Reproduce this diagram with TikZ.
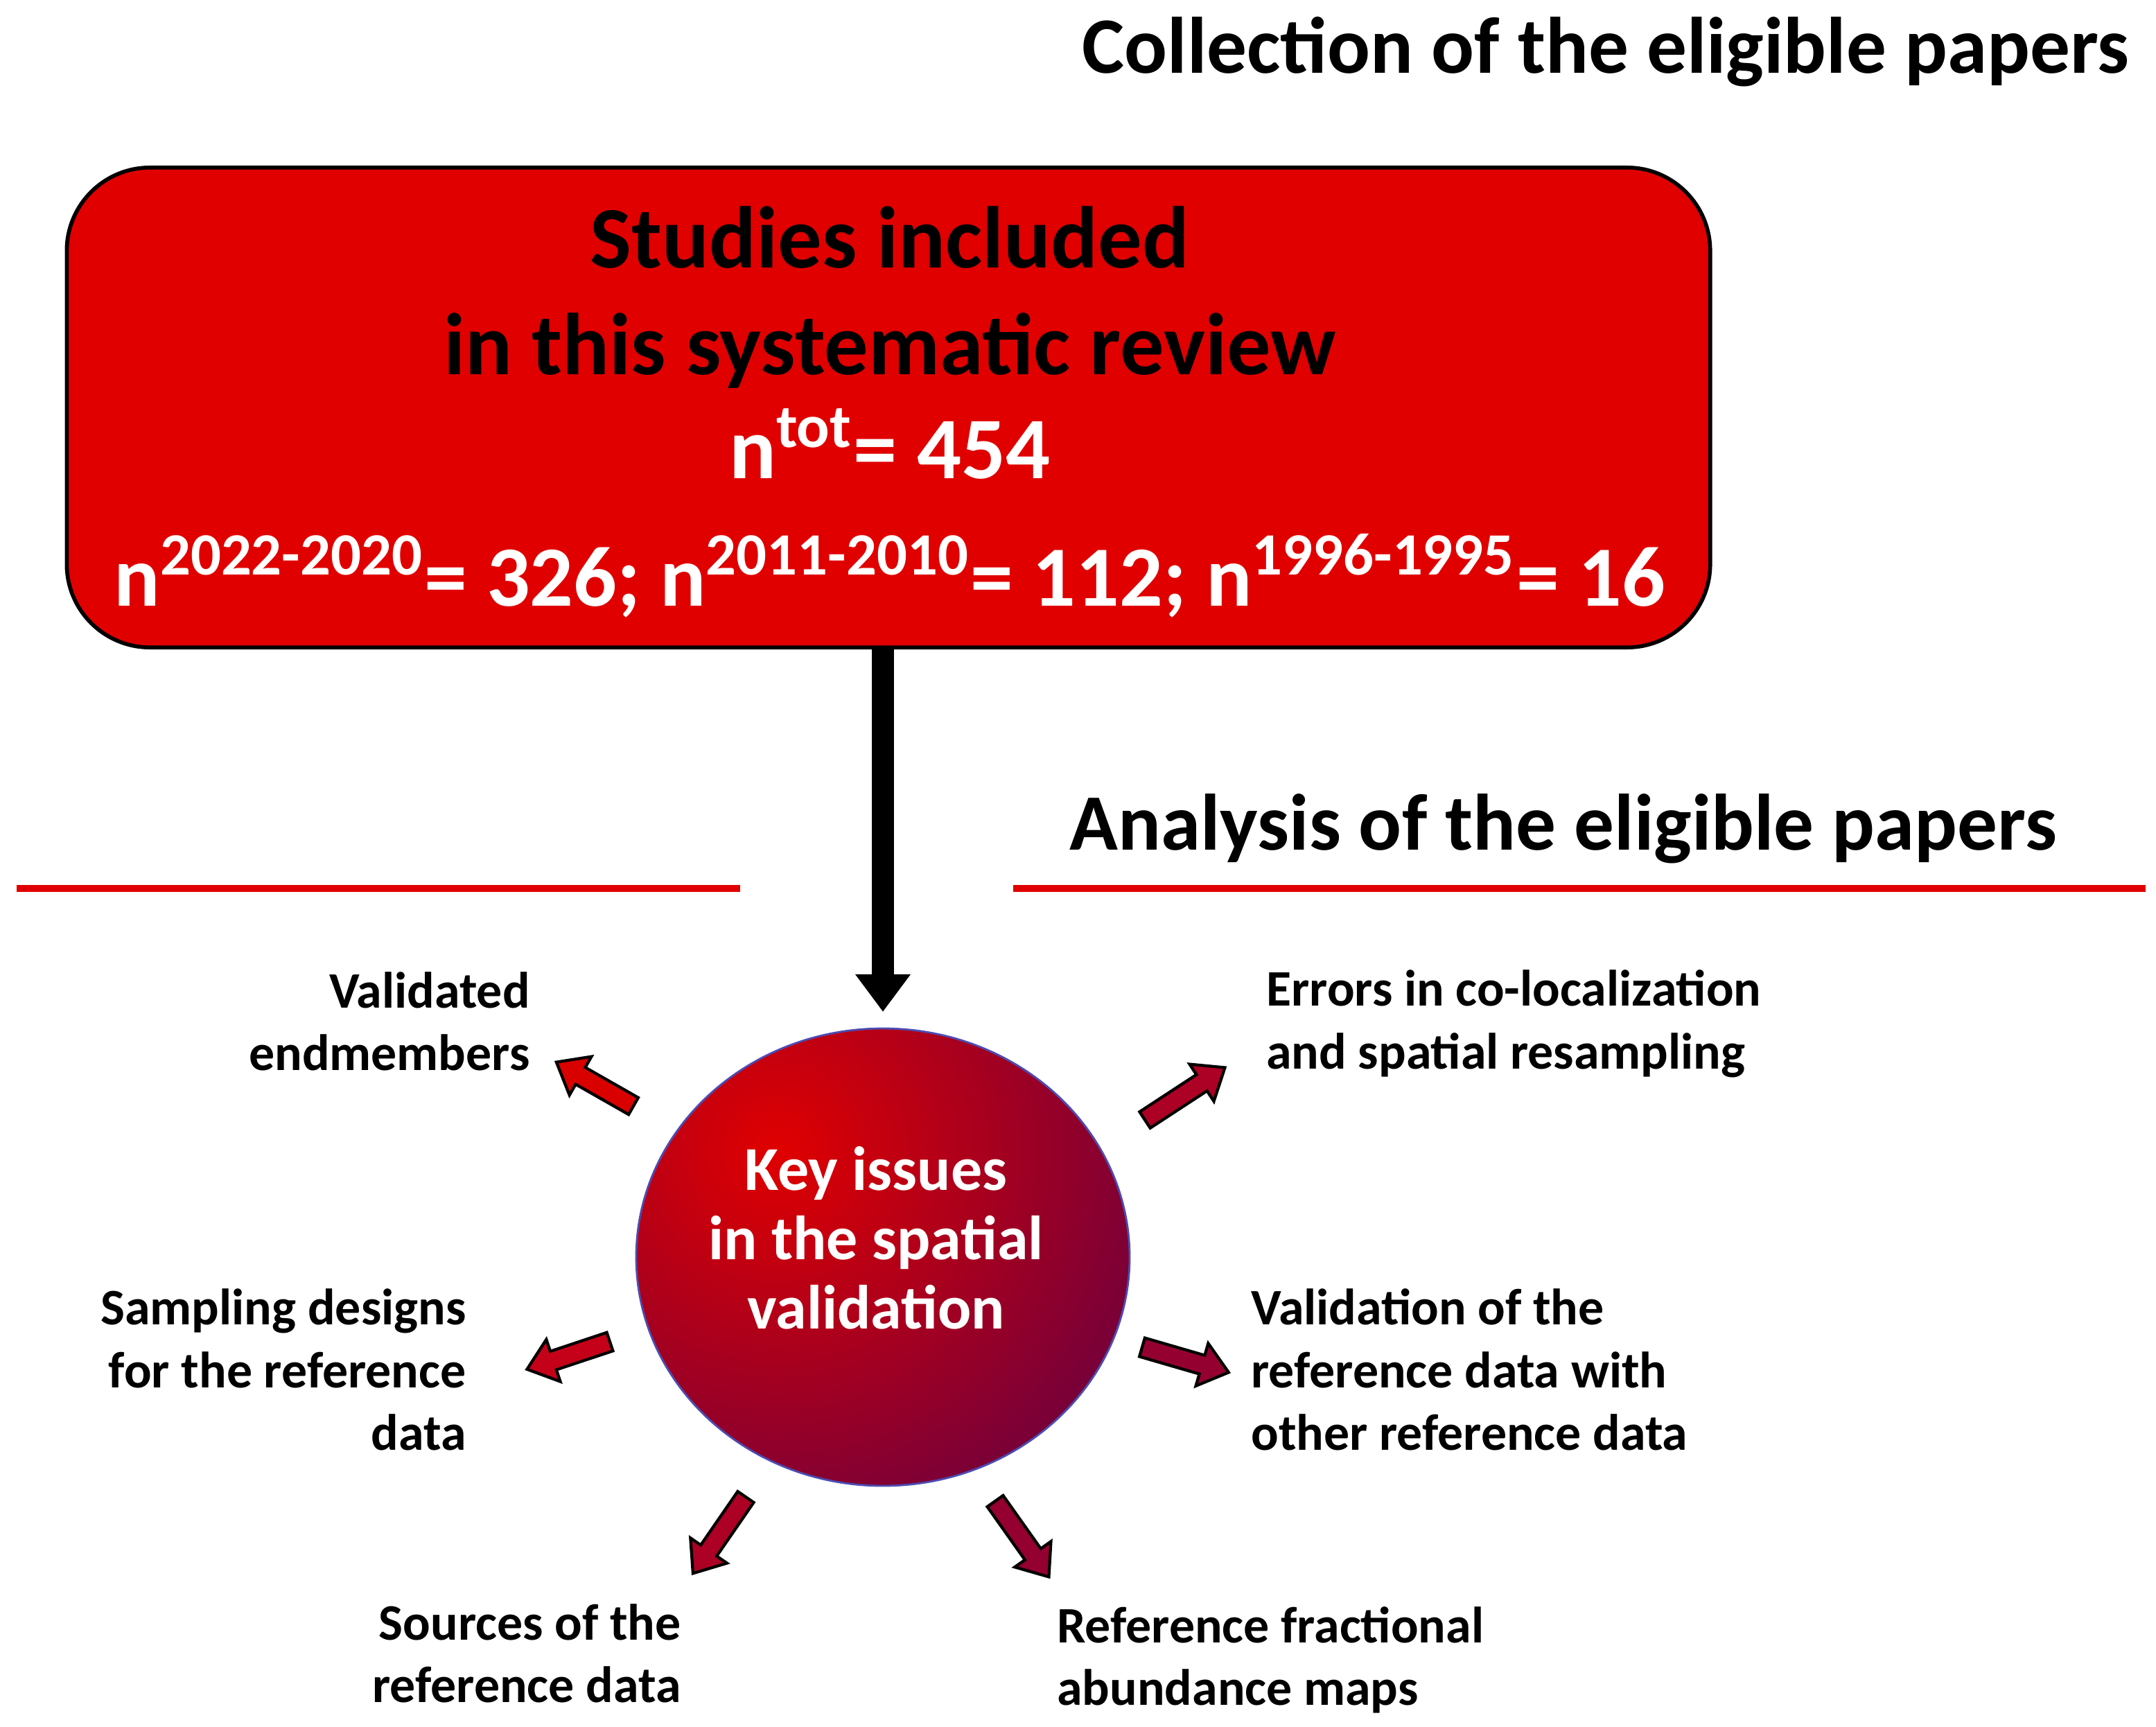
\documentclass[tikz,border=0pt]{standalone}
\usepackage{fontspec}
\setmainfont{Carlito}
\usetikzlibrary{arrows.meta}
\definecolor{boxred}{HTML}{E00000}
\definecolor{dkpurp}{HTML}{5A0048}
\begin{document}
\begin{tikzpicture}[x=0.01cm,y=-0.01cm,
  lab/.style={font=\fontsize{10.5}{12.8}\selectfont\bfseries, inner sep=0pt},
  head/.style={font=\fontsize{16.4}{20}\selectfont\bfseries, inner sep=0pt},
  barrow/.pic={\draw[black, line width=0.6pt, fill=\pgfkeysvalueof{/tikz/afill}]
     (0,-7) -- (#1-20,-7) -- (#1-20,-16) -- (#1,0) -- (#1-20,16) -- (#1-20,7) -- (0,7) -- cycle;},
  afill/.initial=red,
]
\useasboundingbox (0,0) rectangle (1555.5,1245.5);
\node[head, anchor=base east] (t1) at (1537,53) {Collection of the eligible papers};
\node[draw=black, line width=0.8pt, fill=boxred, rounded corners=0.6cm, minimum width=11.85cm, minimum height=3.46cm] (box) at (641,294) {};
\node[font=\fontsize{18}{20}\selectfont\bfseries, anchor=base] (l1) at (642,193) {Studies included};
\node[font=\fontsize{18}{20}\selectfont\bfseries, anchor=base] (l2) at (642,270) {in this systematic review};
\node[font=\fontsize{18}{20}\selectfont\bfseries, text=white, anchor=base] (l3) at (642,345) {n\textsuperscript{tot}= 454};
\node[font=\fontsize{17.6}{20}\selectfont\bfseries, text=white, anchor=base] (l4) at (642,437) {n\textsuperscript{2022-2020}= 326; n\textsuperscript{2011-2010}= 112; n\textsuperscript{1996-1995}= 16};
\coordinate (atip) at (637,730);
\draw[line width=0.16cm, -{Triangle[width=0.38cm,length=0.27cm]}] (box.south -| atip) -- (atip);
\node[head, anchor=base west] (t2) at (771,613) {Analysis of the eligible papers};
\draw[boxred, line width=0.05cm] (12,641) -- (534,641);
\draw[boxred, line width=0.05cm] (731,641) -- (1548,641);
\begin{scope}
\clip (637,907) ellipse [x radius=178, y radius=165];
\shade[inner color=boxred, outer color=dkpurp] (560,830) circle [radius=3.6cm];
\end{scope}
\draw[blue!40!gray, line width=0.4pt] (637,907) ellipse [x radius=178, y radius=165];
\node[font=\fontsize{12.8}{14.2}\selectfont\bfseries, text=white, align=center] (c) at (632,893) {Key issues\\in the spatial\\validation};
\pic[rotate=150.3, afill=red!85!black] (a1) at (457,798) {barrow=64};
\pic[rotate=33.2, afill=red!50!dkpurp] (a2) at (826,808) {barrow=69};
\pic[rotate=198.4, afill=red!65!dkpurp] (a3) at (440,968) {barrow=63};
\pic[rotate=-16.2, afill=red!35!dkpurp] (a4) at (824,972) {barrow=65};
\pic[rotate=235.4, afill=red!50!dkpurp] (a5) at (538,1080) {barrow=67};
\pic[rotate=-54.7, afill=red!35!dkpurp] (a6) at (718,1083) {barrow=67};
\node[lab, align=right, anchor=base east] (p1) at (383,772) {Validated\\endmembers};
\node[lab, align=left, anchor=base west] (p2) at (913,771) {Errors in co-localization\\and spatial resampling};
\node[lab, align=right, anchor=base east] (p3) at (337,1046) {Sampling designs\\for the reference\\data};
\node[lab, align=left, anchor=base west] (p4) at (902,1046) {Validation of the\\reference data with\\other reference data};
\node[lab, align=right, anchor=base east] (p5) at (492,1228) {Sources of the\\reference data};
\node[lab, align=left, anchor=base west] (p6) at (762,1230) {Reference fractional\\abundance maps};
\end{tikzpicture}
\end{document}
